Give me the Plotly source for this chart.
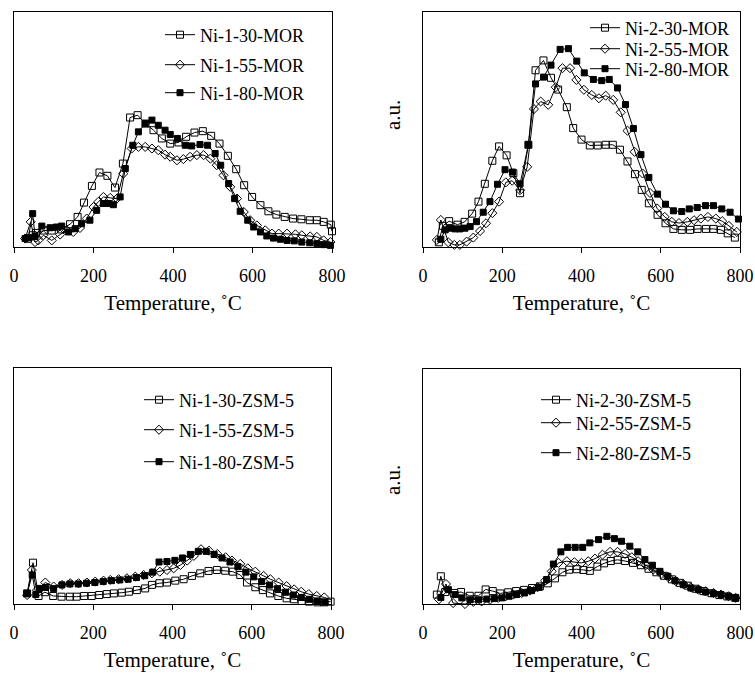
import plotly.graph_objects as go

# ---------------- data (temperature in C, signal in % of panel height) ----------------
# Panel 1: Ni-1-x-MOR
p1_30_T = [35, 47, 55, 75, 95, 118, 141, 160, 176, 196, 215, 235, 254, 274, 292, 311, 331, 351, 372, 393, 414, 433, 454, 475, 496, 517, 538, 559, 579, 599, 620, 640, 660, 681, 702, 723, 744, 762, 779, 797, 800]
p1_30_V = [3.5, 5.0, 6.0, 7.0, 7.0, 7.5, 9.7, 12.8, 18.9, 26.0, 31.7, 30.3, 25.3, 35.5, 55.1, 56.1, 52.5, 49.7, 46.2, 44.0, 44.5, 46.9, 48.7, 49.3, 47.3, 44.0, 38.8, 33.1, 26.3, 21.3, 17.8, 15.2, 13.8, 12.8, 12.1, 11.8, 11.4, 11.4, 10.7, 9.5, 6.7]
p1_55_T = [28, 42, 53, 61, 74, 95, 116, 133, 149, 166, 183, 200, 212, 225, 242, 259, 275, 296, 313, 330, 347, 363, 380, 393, 410, 426, 443, 460, 477, 494, 510, 527, 544, 561, 578, 594, 611, 632, 649, 666, 687, 708, 724, 745, 762, 779, 796]
p1_55_V = [3.6, 10.7, 2.1, 2.8, 5.0, 2.8, 5.3, 7.1, 6.4, 8.1, 12.1, 17.0, 19.2, 21.3, 20.9, 20.6, 31.2, 41.9, 42.6, 42.6, 41.9, 41.2, 39.3, 38.4, 36.9, 37.4, 38.4, 39.1, 39.1, 37.6, 34.8, 30.5, 25.6, 20.6, 14.9, 11.4, 9.2, 7.1, 5.7, 5.7, 5.7, 5.4, 5.0, 4.5, 4.3, 2.8, 2.1]
p1_80_T = [28, 36, 47, 53, 70, 91, 107, 120, 137, 154, 170, 191, 208, 225, 238, 250, 267, 280, 299, 313, 330, 347, 363, 380, 393, 411, 431, 447, 468, 487, 506, 520, 540, 555, 569, 588, 603, 620, 636, 653, 670, 687, 705, 724, 744, 762, 779, 796]
p1_80_V = [3.6, 4.0, 14.2, 4.5, 8.9, 8.2, 8.5, 8.9, 6.4, 7.8, 9.9, 11.4, 15.6, 18.5, 18.5, 18.0, 21.3, 33.4, 43.3, 49.0, 52.6, 54.0, 51.8, 49.7, 47.9, 46.2, 43.3, 43.0, 43.6, 43.3, 39.8, 34.8, 27.0, 20.6, 15.2, 11.4, 8.5, 6.4, 4.7, 3.8, 3.3, 2.8, 2.6, 2.1, 1.8, 1.4, 1.0, 0.7]

# Panel 2: Ni-2-x-MOR
p2_30_T = [40, 50, 66, 87, 105, 124, 140, 156, 175, 192, 211, 228, 245, 266, 284, 304, 323, 341, 363, 379, 400, 421, 441, 461, 479, 497, 516, 535, 552, 570, 592, 612, 632, 653, 674, 693, 714, 733, 752, 769, 787]
p2_30_V = [2.0, 9.0, 11.0, 9.5, 10.7, 14.2, 19.3, 26.9, 36.7, 42.8, 39.0, 31.4, 22.9, 43.5, 75.2, 79.4, 72.0, 67.0, 59.5, 50.6, 45.7, 43.2, 43.2, 43.5, 43.5, 41.4, 36.4, 31.0, 24.3, 18.6, 13.7, 10.1, 7.7, 7.3, 7.3, 7.7, 7.7, 7.7, 7.3, 5.8, 4.0]
p2_55_T = [35, 45, 64, 79, 93, 110, 127, 144, 159, 175, 192, 209, 225, 245, 263, 280, 297, 316, 335, 352, 371, 387, 406, 426, 444, 461, 480, 499, 516, 534, 554, 573, 591, 610, 628, 646, 667, 684, 701, 719, 739, 755, 772, 792]
p2_55_V = [3.0, 11.5, 2.0, 0.9, 0.9, 2.3, 4.0, 6.8, 10.1, 14.4, 19.3, 27.5, 28.2, 24.2, 34.1, 58.7, 61.9, 60.5, 68.0, 76.1, 76.1, 71.1, 66.9, 64.7, 63.3, 64.4, 62.6, 57.3, 49.5, 40.5, 31.3, 23.0, 16.4, 12.8, 10.7, 10.2, 10.7, 11.4, 12.1, 12.8, 12.1, 11.0, 9.0, 6.4]
p2_80_T = [45, 56, 68, 81, 93, 106, 119, 135, 152, 169, 188, 207, 226, 245, 266, 284, 304, 323, 346, 367, 388, 407, 430, 451, 470, 491, 511, 531, 550, 570, 592, 612, 632, 653, 672, 692, 713, 733, 754, 775, 796]
p2_80_V = [3.3, 7.3, 8.0, 7.7, 7.7, 8.0, 8.7, 10.8, 14.8, 19.3, 26.7, 32.9, 31.9, 26.9, 43.5, 69.4, 72.3, 77.4, 84.1, 84.4, 79.1, 74.1, 71.3, 70.8, 71.3, 67.7, 60.6, 50.4, 39.3, 29.6, 22.5, 18.2, 15.4, 15.1, 16.2, 16.8, 17.6, 17.6, 16.2, 14.8, 11.9]

# Panel 3: Ni-1-x-ZSM-5
p3_30_T = [33, 48, 62, 78, 99, 120, 141, 158, 177, 196, 215, 234, 252, 272, 290, 310, 331, 348, 367, 386, 407, 428, 449, 470, 491, 512, 533, 552, 571, 588, 609, 628, 646, 667, 688, 707, 726, 745, 766, 783, 799]
p3_30_V = [4.5, 17.5, 3.4, 5.0, 3.4, 3.1, 3.1, 3.1, 3.4, 3.4, 3.8, 4.2, 4.5, 4.8, 5.2, 5.9, 6.6, 8.1, 8.8, 9.1, 9.9, 10.5, 11.9, 13.0, 14.0, 14.4, 14.1, 13.7, 12.3, 9.1, 7.1, 5.9, 4.5, 3.4, 2.4, 2.0, 1.3, 1.0, 0.7, 0.7, 1.0]
p3_55_T = [33, 45, 58, 79, 100, 121, 142, 163, 184, 205, 226, 243, 264, 285, 306, 327, 348, 368, 386, 403, 420, 437, 454, 472, 492, 513, 534, 550, 571, 590, 609, 630, 647, 668, 688, 707, 725, 744, 764, 783, 801]
p3_55_V = [3.8, 14.4, 5.9, 9.1, 7.4, 8.1, 8.8, 8.8, 9.1, 9.5, 9.9, 10.2, 10.5, 10.9, 11.6, 12.3, 13.0, 13.7, 14.4, 15.1, 16.5, 18.4, 20.4, 23.2, 22.6, 21.2, 19.8, 18.4, 17.0, 15.1, 13.7, 11.9, 10.5, 9.1, 7.6, 6.2, 5.2, 4.2, 3.4, 2.8, 1.7]
p3_80_T = [33, 46, 55, 64, 80, 100, 121, 141, 162, 183, 204, 225, 246, 267, 288, 309, 330, 350, 366, 386, 406, 425, 445, 465, 485, 505, 525, 545, 565, 585, 605, 625, 645, 665, 685, 705, 725, 745, 765, 785]
p3_80_V = [4.5, 12.3, 4.0, 6.6, 7.0, 6.5, 8.1, 8.5, 8.5, 8.8, 9.1, 9.5, 9.9, 10.2, 10.5, 11.2, 12.0, 13.5, 17.8, 18.0, 18.5, 19.5, 21.0, 22.3, 22.3, 21.0, 19.5, 17.8, 15.8, 13.5, 11.5, 9.5, 8.0, 6.5, 5.0, 3.8, 2.8, 2.0, 1.3, 0.8]

# Panel 4: Ni-2-x-ZSM-5
p4_30_T = [35, 45, 56, 79, 96, 118, 140, 158, 176, 195, 215, 235, 255, 275, 295, 315, 333, 352, 369, 388, 405, 421, 440, 457, 474, 491, 510, 530, 550, 569, 589, 608, 628, 648, 668, 688, 708, 728, 748, 768, 788]
p4_30_V = [4.0, 11.8, 5.1, 4.7, 5.1, 3.5, 3.5, 6.2, 5.5, 4.5, 5.0, 5.5, 6.0, 6.8, 7.5, 8.8, 10.9, 13.5, 14.6, 14.8, 14.5, 14.1, 15.9, 17.3, 18.3, 18.8, 18.3, 17.5, 16.5, 15.0, 13.5, 12.0, 10.5, 9.0, 7.8, 6.5, 5.5, 4.6, 3.8, 3.2, 2.6]
p4_55_T = [40, 58, 76, 106, 127, 148, 169, 190, 209, 228, 249, 270, 289, 308, 325, 342, 363, 382, 400, 417, 434, 453, 472, 491, 510, 527, 543, 562, 581, 601, 619, 638, 657, 676, 695, 713, 733, 752, 771, 789, 802]
p4_55_V = [2.0, 8.5, 0.4, 0.0, 0.9, 1.1, 1.8, 2.6, 3.3, 4.0, 4.7, 5.7, 7.1, 9.9, 13.9, 17.5, 18.2, 17.8, 17.5, 18.2, 19.3, 21.0, 22.2, 22.2, 21.3, 19.9, 18.2, 16.5, 14.6, 12.8, 11.4, 9.7, 8.5, 7.1, 6.1, 5.4, 4.7, 4.0, 3.3, 2.6, 2.3]
p4_80_T = [45, 64, 81, 98, 119, 140, 161, 180, 199, 217, 236, 256, 274, 293, 312, 329, 348, 365, 384, 403, 421, 443, 464, 483, 501, 522, 542, 560, 579, 598, 618, 636, 657, 676, 695, 713, 733, 752, 771, 789]
p4_80_V = [2.8, 6.1, 4.0, 2.6, 1.8, 1.8, 2.1, 2.3, 2.6, 3.3, 4.0, 4.7, 5.7, 7.1, 10.4, 17.0, 22.2, 24.1, 24.1, 24.1, 26.0, 27.4, 28.8, 27.8, 26.7, 24.6, 22.2, 18.9, 16.5, 13.9, 11.8, 9.9, 8.2, 6.8, 6.1, 5.1, 4.4, 4.0, 3.3, 2.6]

x_ticks = [0, 200, 400, 600, 800]
x_title = "Temperature, ˚C"
y_label = "a.u."

panels = [
    [("Ni-1-30-MOR", p1_30_T, p1_30_V), ("Ni-1-55-MOR", p1_55_T, p1_55_V), ("Ni-1-80-MOR", p1_80_T, p1_80_V)],
    [("Ni-2-30-MOR", p2_30_T, p2_30_V), ("Ni-2-55-MOR", p2_55_T, p2_55_V), ("Ni-2-80-MOR", p2_80_T, p2_80_V)],
    [("Ni-1-30-ZSM-5", p3_30_T, p3_30_V), ("Ni-1-55-ZSM-5", p3_55_T, p3_55_V), ("Ni-1-80-ZSM-5", p3_80_T, p3_80_V)],
    [("Ni-2-30-ZSM-5", p4_30_T, p4_30_V), ("Ni-2-55-ZSM-5", p4_55_T, p4_55_V), ("Ni-2-80-ZSM-5", p4_80_T, p4_80_V)],
]

# ---------------- layout geometry ----------------
W, H = 755, 674
FONT = "Liberation Serif, Times New Roman, serif"

def fx(px):
    return px / W

def fy(py):
    return 1 - py / H

# pixel boxes (left, right, top, bottom)
boxes = [(14, 332, 12, 247), (423, 740, 12, 247), (14, 331, 368, 604), (423, 740, 369, 604)]
# legend rows: (line start x, [row centre y])
legend_pos = [(167, [35, 65, 93]), (592, [28, 49, 69]), (146, [400, 430, 462]), (543, [400, 423, 453])]

styles = [
    dict(symbol="square-open", size=7),
    dict(symbol="diamond-open", size=7),
    dict(symbol="square", size=6),
]

fig = go.Figure()
layout = dict(
    width=W, height=H,
    margin=dict(l=0, r=0, t=0, b=0),
    paper_bgcolor="white", plot_bgcolor="white",
    font=dict(family=FONT, color="black", size=18),
    showlegend=True,
)

leg_idx = 0
for pi, series in enumerate(panels):
    n = pi + 1
    xa = "x" if n == 1 else f"x{n}"
    ya = "y" if n == 1 else f"y{n}"
    for si, (name, T, V) in enumerate(series):
        leg_idx += 1
        lname = "legend" if leg_idx == 1 else f"legend{leg_idx}"
        st = styles[si]
        fig.add_trace(go.Scatter(
            x=T, y=V, name=name, mode="lines+markers",
            xaxis=xa, yaxis=ya, legend=lname,
            line=dict(color="black", width=1),
            marker=dict(symbol=st["symbol"], size=st["size"], color="black",
                        line=dict(color="black", width=1)),
            cliponaxis=False,
        ))
        lx, rows = legend_pos[pi]
        layout[lname] = dict(
            x=fx(lx - 7), y=fy(rows[si]), xanchor="left", yanchor="middle",
            bgcolor="rgba(0,0,0,0)", borderwidth=0,
            font=dict(family=FONT, size=18, color="black"),
            itemclick=False, itemdoubleclick=False,
        )
    l, r, t, b = boxes[pi]
    xkey = "xaxis" if n == 1 else f"xaxis{n}"
    ykey = "yaxis" if n == 1 else f"yaxis{n}"
    layout[xkey] = dict(
        domain=[fx(l), fx(r)], anchor=ya, range=[0, 800],
        tickvals=x_ticks, ticktext=[str(v) for v in x_ticks],
        ticks="outside", ticklen=5, tickwidth=1, tickcolor="black",
        showline=True, linecolor="black", linewidth=1, mirror=True,
        showgrid=False, zeroline=False,
        tickfont=dict(family=FONT, size=18, color="black"),
        ticklabelstandoff=7,
        title=dict(text=x_title, font=dict(family=FONT, size=21, color="black"), standoff=10),
        automargin=False,
    )
    layout[ykey] = dict(
        domain=[fy(b), fy(t)], anchor=xa, range=[0, 100],
        showticklabels=False, ticks="", showline=True, linecolor="black",
        linewidth=1, mirror=True, showgrid=False, zeroline=False,
    )

fig.update_layout(**layout)

# "a.u." labels for the right-hand panels
for yc in (115, 480):
    fig.add_annotation(text=y_label, xref="paper", yref="paper", x=fx(393), y=fy(yc),
                       xanchor="center", yanchor="middle",
                       showarrow=False, textangle=-90,
                       font=dict(family=FONT, size=21, color="black"))

fig.write_html("out.html", config={"displayModeBar": False},
               post_script="document.body.style.margin='0';")
